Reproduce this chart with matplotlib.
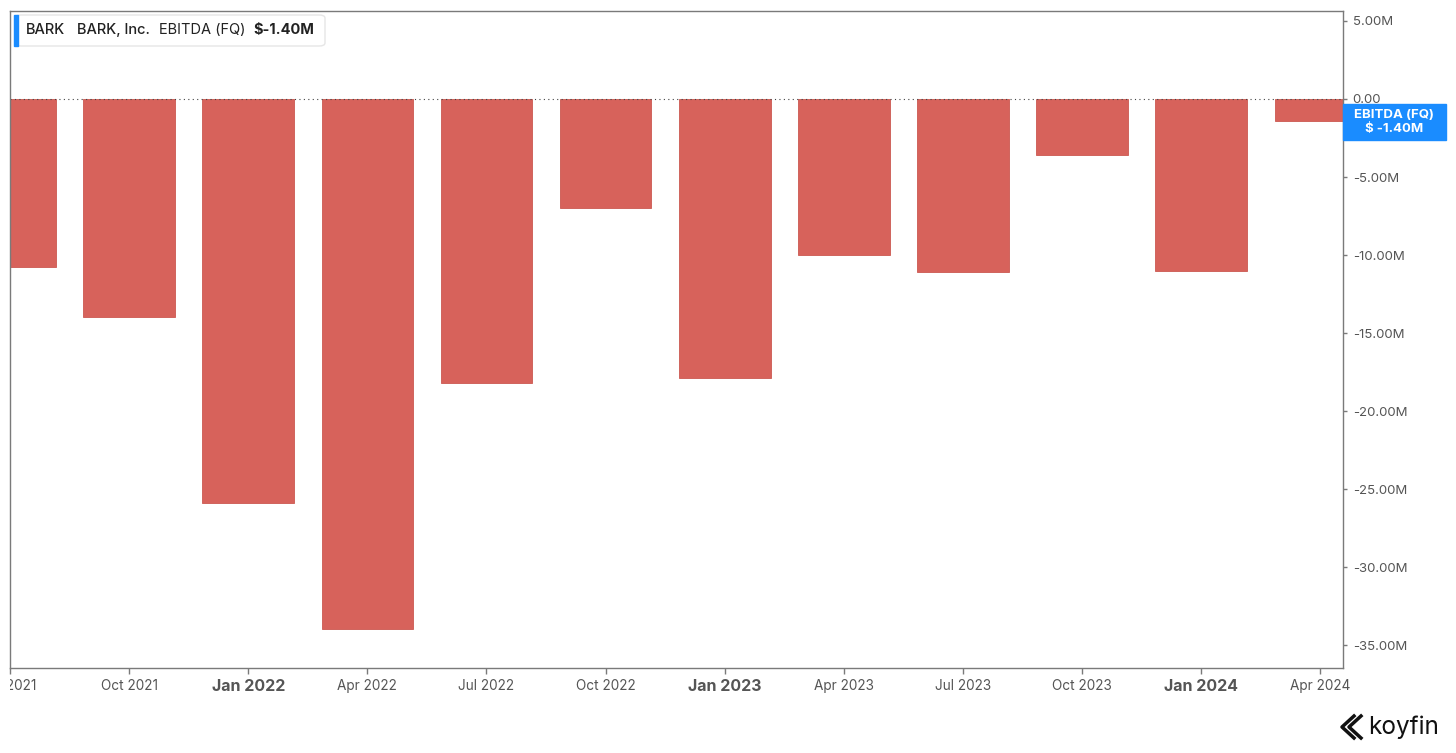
import matplotlib.pyplot as plt
from matplotlib.patches import FancyBboxPatch, Rectangle
from matplotlib.lines import Line2D
from matplotlib.transforms import Bbox, TransformedBbox

# quarterly EBITDA, $M
quarters = ["Jul 2021", "Oct 2021", "Jan 2022", "Apr 2022", "Jul 2022", "Oct 2022",
            "Jan 2023", "Apr 2023", "Jul 2023", "Oct 2023", "Jan 2024", "Apr 2024"]
ebitda = [-10.8, -14.0, -25.9, -34.0, -18.2, -7.0, -17.9, -10.0, -11.1, -3.6, -11.0, -1.4]
y_ticks = [5, 0, -5, -10, -15, -20, -25, -30, -35]
y_labels = ["5.00M", "0.00", "-5.00M", "-10.00M", "-15.00M", "-20.00M",
            "-25.00M", "-30.00M", "-35.00M"]

plt.rcParams['font.family'] = ['Inter', 'DejaVu Sans']
bar_color = '#d7625b'
frame_color = '#7a7a7a'
text_color = '#555555'

fig = plt.figure(figsize=(14.56, 7.53), dpi=100)
ax = fig.add_axes([10 / 1456, 85 / 753, 1333 / 1456, 657 / 753])

x = list(range(len(quarters)))
ax.bar(x, ebitda, width=0.77, color=bar_color, edgecolor='#cc5850', linewidth=0.6)
ax.axhline(0, color='#444444', linestyle=(0, (1, 3)), linewidth=0.8)

ax.set_xlim(0.008, 11.19)
ax.set_ylim(-36.47, 5.64)

ax.yaxis.tick_right()
ax.set_yticks(y_ticks)
ax.set_yticklabels(y_labels)
ax.tick_params(axis='y', length=3, width=1, color=frame_color, labelcolor=text_color,
               labelsize=9.5, pad=4)

ax.set_xticks(x)
ax.set_xticklabels(quarters)
ax.tick_params(axis='x', length=4, width=1, color=frame_color, labelcolor=text_color,
               labelsize=9.8, pad=4)
# the first label is cut at the plot's left edge, as in the source
clip = TransformedBbox(Bbox([[10 / 1456, 0], [1, 1]]), fig.transFigure)
for lbl in ax.get_xticklabels():
    if lbl.get_text().startswith("Jan"):
        lbl.set_fontweight('bold')
        lbl.set_fontsize(11.5)
    lbl.set_clip_on(True)
    lbl.set_clip_box(clip)

for s in ax.spines.values():
    s.set_color(frame_color)
    s.set_linewidth(1)

# legend box, top left
fig.patches.append(FancyBboxPatch((15 / 1456, (753 - 46) / 753), 310 / 1456, 31 / 753,
                                  boxstyle="round,pad=0,rounding_size=0.004",
                                  transform=fig.transFigure, facecolor='white',
                                  edgecolor='#e6e6e6', linewidth=1))
fig.patches.append(Rectangle((14 / 1456, (753 - 46) / 753), 4 / 1456, 31 / 753,
                             transform=fig.transFigure, color='#1a8cff'))
ty = (753 - 30) / 753
fig.text(26 / 1456, ty, "BARK", fontsize=10.5, fontweight='medium', color='#222222', va='center')
fig.text(77 / 1456, ty, "BARK, Inc.", fontsize=10.5, fontweight='medium', color='#222222', va='center')
fig.text(159 / 1456, ty, "EBITDA (FQ)", fontsize=10.5, color='#222222', va='center')
fig.text(253 / 1456, ty, "$-1.40M", fontsize=10.5, fontweight='bold', color='#222222', va='center')

# last value label on right axis
fig.patches.append(Rectangle((1343 / 1456, (753 - 140) / 753), 103 / 1456, 36 / 753,
                             transform=fig.transFigure, color='#1a8cff'))
fig.text(1394 / 1456, (753 - 115) / 753, "EBITDA (FQ)", fontsize=9.5, fontweight='bold',
         color='white', ha='center', va='center')
fig.text(1394 / 1456, (753 - 129) / 753, "$ -1.40M", fontsize=9.5, fontweight='bold',
         color='white', ha='center', va='center')

# koyfin mark
for dx in (0, 7):
    fig.lines.append(Line2D([(1354 + dx) / 1456, (1342 + dx) / 1456, (1354 + dx) / 1456],
                            [(753 - 716) / 753, (753 - 727) / 753, (753 - 738) / 753],
                            transform=fig.transFigure, color='#111111', linewidth=2.5))
fig.text(1368 / 1456, (753 - 727) / 753, "koyfin", fontsize=17.5, color='#111111', va='center')

fig.savefig("out.png", dpi=100)
